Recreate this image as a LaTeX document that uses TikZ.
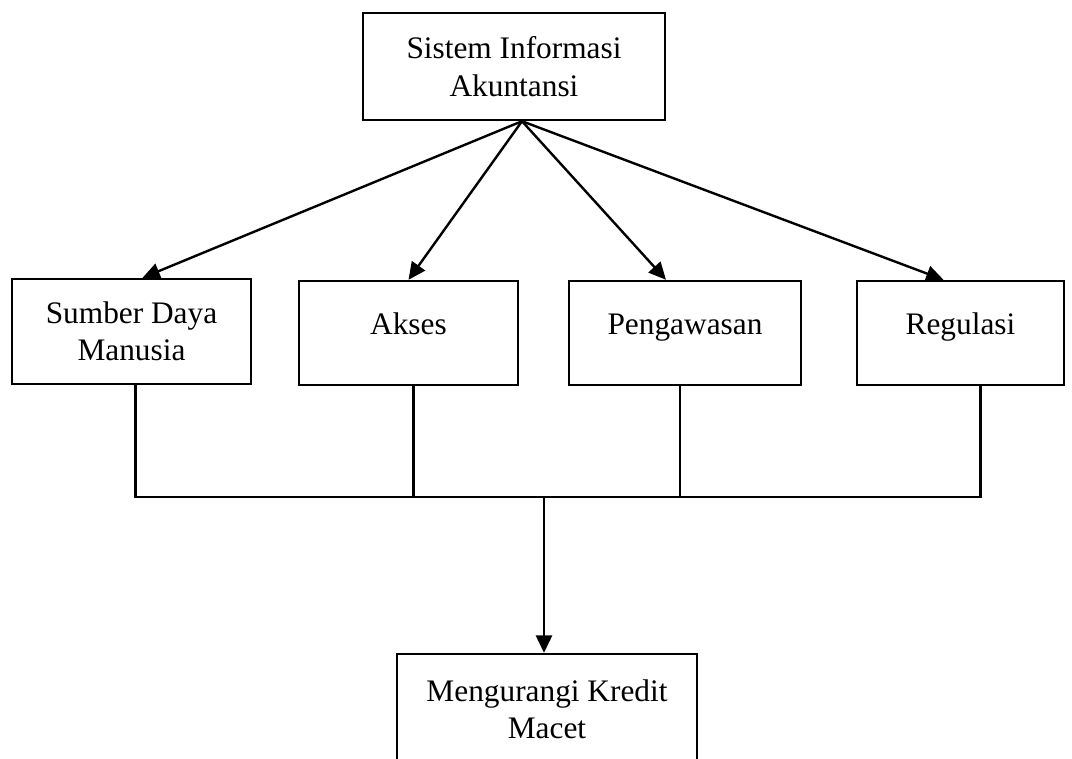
\documentclass[tikz,border=0pt]{standalone}
\usepackage{fontspec}
\setmainfont{Liberation Serif}
\usetikzlibrary{arrows.meta,calc}

\begin{document}
\begin{tikzpicture}[x=0.75pt,y=0.75pt,yscale=-1,xscale=1,
  kotak/.style={draw, line width=1.8pt, align=center, inner sep=0pt, font=\fontsize{23.5}{28}\selectfont},
  satu/.style={kotak, text height=0.7em, text depth=0.55em},
  panah/.style={line width=1.8pt, -{Triangle[length=13pt,width=12pt]}},
  garis/.style={line width=1.6pt}]
%set diagram left start at 0, and has size 1072 x 758
\useasboundingbox (0,0) rectangle (1072,758);
\clip (0,0) rectangle (1072,758);

%Shape: Rectangle [sistem informasi]
\node[kotak, minimum width=226.5pt, minimum height=80.25pt] (sia) at (514,66.5) {Sistem Informasi\\Akuntansi};
%Shape: Rectangle [faktor]
\node[kotak, minimum width=179.25pt, minimum height=78.75pt] (sdm) at (131.5,331.5) {Sumber Daya\\Manusia};
\node[satu, minimum width=164.25pt, minimum height=78pt] (akses) at (408.5,333) {Akses};
\node[satu, minimum width=174pt, minimum height=78pt] (peng) at (685,333) {Pengawasan};
\node[satu, minimum width=155.25pt, minimum height=78pt] (reg) at (960.5,333) {Regulasi};
%Shape: Rectangle [hasil]
\node[kotak, minimum width=225pt, minimum height=82.5pt] (hasil) at (547,709) {Mengurangi Kredit\\Macet};

%Straight Lines [arrows from top]
\coordinate (puncak) at ($(sia.south)+(8,0)$);
\draw[panah] (puncak) -- ($(sdm.north)+(11,0)$);
\draw[panah] (puncak) -- (akses.north);
\draw[panah] (puncak) -- ($(peng.north)+(-19,0)$);
\draw[panah] (puncak) -- ($(reg.north)+(-17,0)$);

%Straight Lines [collecting bar]
\coordinate (bar) at (544,497);
\draw[garis] ($(sdm.south)+(4,0)$) -- ($(sdm.south |- bar)+(4,0)$) -- ($(reg.south |- bar)+(20,0)$) -- ($(reg.south)+(20,0)$);
\draw[garis] ($(akses.south)+(5,0)$) -- ($(akses.south |- bar)+(5,0)$);
\draw[garis] ($(peng.south)+(-5,0)$) -- ($(peng.south |- bar)+(-5,0)$);
\draw[panah] (bar) -- (bar |- hasil.north);
\end{tikzpicture}
\end{document}
